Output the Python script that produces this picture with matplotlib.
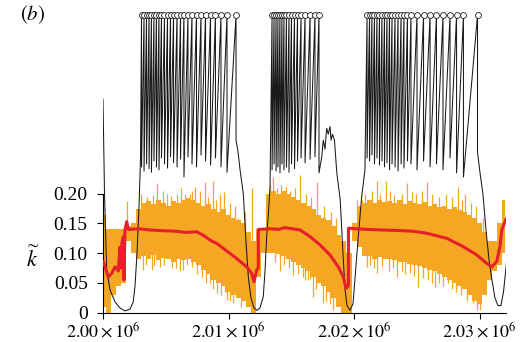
import numpy as np
import matplotlib
matplotlib.use("Agg")
import matplotlib.pyplot as plt
from matplotlib.ticker import FuncFormatter

plt.rcParams['font.family'] = 'serif'
plt.rcParams['font.serif'] = ['Liberation Serif', 'DejaVu Serif']
plt.rcParams['mathtext.fontset'] = 'stix'

# time axis in units of 10^3 steps

# --- black trace: troughs between bursts, and saw-tooth bursts (peak time, value after the drop)
peak_level = 0.5

trough0_x = [2000.00, 2000.12, 2000.29, 2000.56, 2000.96, 2001.35, 2001.75, 2002.15,
             2002.41, 2002.55, 2002.71, 2002.87, 2002.99]
trough0_y = [0.359, 0.20, 0.072, 0.038, 0.018, 0.008, 0.003, 0.006,
             0.018, 0.045, 0.10, 0.18, 0.26]

peaks1 = [2003.07, 2003.27, 2003.47, 2003.67, 2003.86, 2004.06, 2004.26, 2004.46, 2004.66,
          2004.90, 2005.14, 2005.38, 2005.62, 2005.90, 2006.18, 2006.45, 2006.77, 2007.09,
          2007.45, 2007.81, 2008.17, 2008.57, 2008.96, 2009.40, 2009.88, 2010.60]
lows1 = [0.245, 0.238, 0.25, 0.242, 0.236, 0.255, 0.245, 0.24, 0.26,
         0.25, 0.243, 0.262, 0.252, 0.245, 0.258, 0.228, 0.262, 0.25,
         0.245, 0.265, 0.255, 0.248, 0.26, 0.245, 0.236, 0.29]

trough1_x = [2010.76, 2010.92, 2011.18, 2011.39, 2011.58, 2011.79, 2012.03, 2012.27,
             2012.51, 2012.77, 2012.91, 2013.04, 2013.19, 2013.31]
trough1_y = [0.27, 0.24, 0.20, 0.12, 0.06, 0.025, 0.008, 0.004,
             0.008, 0.027, 0.07, 0.128, 0.17, 0.212]

peaks2 = [2013.47, 2013.63, 2013.79, 2013.94, 2014.10, 2014.26, 2014.42, 2014.62, 2014.82,
          2015.02, 2015.26, 2015.50, 2015.78, 2016.10, 2016.50, 2016.89, 2017.21]
lows2 = [0.24, 0.25, 0.238, 0.245, 0.235, 0.25, 0.24, 0.245, 0.236,
         0.25, 0.242, 0.255, 0.26, 0.252, 0.258, 0.262, 0.235]

trough2_x = [2017.43, 2017.55, 2017.69, 2017.82, 2017.95, 2018.09, 2018.17, 2018.28, 2018.44,
             2018.63, 2018.90, 2019.12, 2019.28, 2019.44, 2019.68, 2019.92, 2020.07,
             2020.34, 2020.61, 2020.87]
trough2_y = [0.262, 0.29, 0.275, 0.31, 0.30, 0.313, 0.29, 0.30, 0.29,
             0.235, 0.19, 0.10, 0.04, 0.012, 0.004, 0.015, 0.055,
             0.128, 0.195, 0.24]

peaks3 = [2021.04, 2021.24, 2021.43, 2021.63, 2021.83, 2022.03, 2022.23, 2022.43, 2022.63,
          2022.83, 2023.03, 2023.27, 2023.51, 2023.75, 2023.98, 2024.26, 2024.54, 2025.02,
          2025.54, 2026.06, 2026.57, 2027.09, 2027.65, 2028.17, 2028.72, 2029.84]
lows3 = [0.26, 0.255, 0.265, 0.25, 0.26, 0.248, 0.255, 0.245, 0.252,
         0.24, 0.25, 0.245, 0.238, 0.25, 0.243, 0.255, 0.25, 0.24,
         0.255, 0.245, 0.25, 0.24, 0.26, 0.235, 0.228, 0.27]

trough3_x = [2030.04, 2030.27, 2030.51, 2030.75, 2030.99, 2031.23, 2031.47, 2031.71,
             2031.91, 2032.11, 2032.27]
trough3_y = [0.235, 0.20, 0.14, 0.09, 0.055, 0.025, 0.012, 0.012,
             0.035, 0.075, 0.12]

# --- orange: instantaneous k, band limits and isolated excursions
orange_x = np.linspace(2000.0, 2032.0, 81)
orange_hi = [0.165, 0.14, 0.14, 0.14, 0.14, 0.145, 0.15, 0.175, 0.185, 0.188,
             0.183, 0.19, 0.185, 0.18, 0.188, 0.185, 0.19, 0.192, 0.19, 0.185,
             0.18, 0.183, 0.175, 0.17, 0.175, 0.165, 0.16, 0.155, 0.15, 0.135,
             0.12, 0.14, 0.14, 0.20, 0.205, 0.20, 0.205, 0.20, 0.195, 0.19,
             0.185, 0.18, 0.175, 0.165, 0.16, 0.155, 0.145, 0.13, 0.12, 0.10,
             0.15, 0.18, 0.185, 0.19, 0.185, 0.19, 0.186, 0.188, 0.185, 0.19,
             0.183, 0.187, 0.185, 0.182, 0.186, 0.18, 0.183, 0.178, 0.18, 0.175,
             0.178, 0.172, 0.17, 0.165, 0.16, 0.15, 0.135, 0.12, 0.12, 0.15, 0.19]
orange_lo = [0.01, 0.0, 0.03, 0.045, 0.05, 0.12, 0.10, 0.09, 0.095, 0.09,
             0.097, 0.088, 0.092, 0.09, 0.085, 0.09, 0.088, 0.09, 0.085, 0.08,
             0.072, 0.065, 0.055, 0.05, 0.045, 0.035, 0.03, 0.025, 0.02, 0.01,
             0.0, 0.06, 0.10, 0.10, 0.10, 0.098, 0.095, 0.09, 0.085, 0.08,
             0.075, 0.07, 0.06, 0.05, 0.045, 0.035, 0.025, 0.01, 0.0, 0.0,
             0.12, 0.11, 0.095, 0.095, 0.09, 0.093, 0.09, 0.09, 0.088, 0.085,
             0.085, 0.082, 0.08, 0.078, 0.075, 0.072, 0.07, 0.065, 0.06, 0.055,
             0.05, 0.045, 0.04, 0.03, 0.02, 0.015, 0.03, 0.055, 0.07, 0.08, 0.10]

up_x = [2001.91, 2004.30, 2005.10, 2006.53, 2007.33, 2007.73, 2008.13, 2008.76, 2009.64,
        2010.76, 2011.87, 2013.55, 2013.86, 2014.90, 2015.70, 2017.05, 2020.24, 2020.64,
        2021.83, 2022.55, 2024.22, 2024.62, 2025.82, 2028.29, 2028.84, 2031.87,
        2003.0, 2003.5, 2004.0, 2004.8, 2005.4, 2005.9, 2006.2, 2006.9, 2007.1, 2008.4,
        2009.0, 2009.3, 2010.1, 2010.5, 2011.3,
        2013.3, 2014.2, 2014.6, 2015.3, 2016.2, 2016.6, 2017.6, 2018.2, 2018.6,
        2020.9, 2021.4, 2022.1, 2022.9, 2023.2, 2023.8, 2024.9, 2025.4, 2026.2, 2026.8,
        2027.3, 2027.8, 2028.6, 2029.3, 2029.7, 2030.3]
up_top = [0.187, 0.218, 0.200, 0.199, 0.212, 0.205, 0.220, 0.221, 0.203,
          0.160, 0.210, 0.228, 0.210, 0.205, 0.232, 0.220, 0.190, 0.190,
          0.222, 0.222, 0.218, 0.203, 0.220, 0.212, 0.200, 0.190,
          0.20, 0.195, 0.198, 0.205, 0.196, 0.20, 0.21, 0.20, 0.205, 0.195,
          0.19, 0.20, 0.185, 0.18, 0.17,
          0.215, 0.215, 0.212, 0.21, 0.20, 0.195, 0.18, 0.17, 0.16,
          0.20, 0.205, 0.20, 0.205, 0.198, 0.20, 0.20, 0.205, 0.20, 0.195,
          0.20, 0.195, 0.19, 0.185, 0.18, 0.16]

down_x = [2003.19, 2003.90, 2004.54, 2005.50, 2006.37, 2007.09, 2008.53, 2009.08, 2009.88,
          2010.36, 2010.68, 2014.10, 2015.14, 2016.10, 2016.49, 2016.73, 2017.53, 2018.33,
          2021.04, 2021.83, 2023.43, 2024.46, 2025.10, 2026.45, 2027.49, 2029.48, 2030.04,
          2003.4, 2004.1, 2004.9, 2005.8, 2006.1, 2006.7, 2007.5, 2007.9, 2008.2, 2008.8,
          2009.4, 2009.7, 2010.1, 2011.0,
          2013.7, 2014.4, 2014.8, 2015.5, 2015.9, 2016.3, 2017.0, 2017.8, 2018.1,
          2021.3, 2021.6, 2022.2, 2022.8, 2023.1, 2023.8, 2024.1, 2024.8, 2025.5, 2025.9,
          2026.2, 2026.8, 2027.1, 2027.8, 2028.1, 2028.5, 2029.0, 2029.8]
down_bot = [0.072, 0.072, 0.077, 0.075, 0.072, 0.077, 0.050, 0.033, 0.021,
            0.016, 0.027, 0.070, 0.064, 0.055, 0.057, 0.027, 0.016, 0.005,
            0.077, 0.066, 0.060, 0.066, 0.044, 0.044, 0.050, 0.016, 0.005,
            0.08, 0.078, 0.08, 0.075, 0.07, 0.08, 0.065, 0.06, 0.05, 0.04,
            0.03, 0.035, 0.02, 0.01,
            0.085, 0.08, 0.075, 0.065, 0.06, 0.055, 0.04, 0.02, 0.015,
            0.08, 0.075, 0.078, 0.07, 0.075, 0.07, 0.065, 0.062, 0.058, 0.055,
            0.05, 0.05, 0.045, 0.04, 0.035, 0.03, 0.02, 0.005]

# --- red: running mean of k
mean_x = [2000.02, 2000.42, 2000.69, 2000.96, 2001.22, 2001.35, 2001.43, 2001.51, 2001.62,
          2001.67, 2001.75, 2001.89, 2002.02, 2002.9, 2003.75, 2004.6, 2005.74, 2006.6,
          2007.47, 2008.0, 2008.53, 2009.1, 2009.59, 2010.1, 2010.65, 2011.45, 2011.85,
          2012.03, 2012.25, 2012.37, 2012.38, 2013.31, 2014.0, 2014.50, 2015.1,
          2015.70, 2016.49, 2017.29, 2018.09, 2018.75, 2019.15, 2019.36, 2019.55, 2019.56,
          2021.01, 2022.3, 2023.67, 2024.7, 2025.79, 2027.39, 2028.71, 2029.78, 2030.57,
          2030.97, 2031.37, 2031.63, 2031.77, 2032.11]
mean_y = [0.086, 0.060, 0.066, 0.077, 0.070, 0.110, 0.075, 0.118, 0.128,
          0.055, 0.139, 0.153, 0.140, 0.141, 0.139, 0.138, 0.137, 0.135,
          0.136, 0.130, 0.122, 0.116, 0.108, 0.100, 0.091, 0.077, 0.066,
          0.052, 0.072, 0.075, 0.140, 0.141, 0.140, 0.143, 0.141,
          0.139, 0.128, 0.114, 0.097, 0.077, 0.060, 0.041, 0.045, 0.142,
          0.140, 0.139, 0.138, 0.137, 0.1335, 0.125, 0.111, 0.097, 0.083,
          0.077, 0.086, 0.111, 0.139, 0.157]

xticks = [2000, 2010, 2020, 2030]
xtick_labels = [r'$2.00\times10^{6}$', r'$2.01\times10^{6}$',
                r'$2.02\times10^{6}$', r'$2.03\times10^{6}$']
yticks = [0, 0.05, 0.10, 0.15, 0.20]


def burst(peaks, lows):
    xs, ys = [], []
    for p, lo in zip(peaks, lows):
        xs += [p, p]
        ys += [peak_level, lo]
    return xs, ys


bx, by = list(trough0_x), list(trough0_y)
for pk, lw_, tx, ty in [(peaks1, lows1, trough1_x, trough1_y),
                        (peaks2, lows2, trough2_x, trough2_y),
                        (peaks3, lows3, trough3_x, trough3_y)]:
    sx, sy = burst(pk, lw_)
    bx += sx + tx
    by += sy + ty
all_peaks = peaks1 + peaks2 + peaks3

fig = plt.figure(figsize=(5.22, 3.42), dpi=100)
ax = fig.add_axes([103 / 522, (342 - 312.7) / 342, (506 - 103) / 522, 309.4 / 342])

orange = '#f5a623'
ax.fill_between(orange_x, orange_lo, orange_hi, step='mid', color=orange, lw=0, zorder=1)
ax.vlines(up_x, np.interp(up_x, orange_x, orange_hi) - 0.01, up_top, color=orange, lw=0.9, zorder=1)
ax.vlines(down_x, down_bot, np.interp(down_x, orange_x, orange_lo) + 0.01, color=orange, lw=0.9, zorder=1)

ax.plot(bx, by, color='#1a1a1a', lw=0.75, zorder=2)
ax.plot(mean_x, mean_y, color='#e5202b', lw=2.2, zorder=3, solid_joinstyle='round')
ax.plot(all_peaks, [peak_level] * len(all_peaks), 'o', ms=4.2, mfc='white', mec='#1a1a1a',
        mew=0.6, zorder=4, clip_on=False)

ax.set_xlim(2000, 2032.11)
ax.set_ylim(0, 0.52)

for s in ['top', 'right']:
    ax.spines[s].set_visible(False)
ax.spines['left'].set_bounds(0, 0.20)
ax.spines['left'].set_linewidth(0.8)
ax.spines['bottom'].set_linewidth(0.8)

ax.set_xticks(xticks)
ax.set_xticklabels(xtick_labels)
ax.set_yticks(yticks)
ax.yaxis.set_major_formatter(FuncFormatter(lambda v, _: '0' if v == 0 else f'{v:.2f}'))
ax.tick_params(axis='both', direction='out', length=4, width=0.8, labelsize=14)
ax.tick_params(axis='x', pad=2.5, labelsize=13)
ax.tick_params(axis='y', pad=7)

fig.text(33 / 522, 1 - 259 / 342, r'$\widetilde{k}$', fontsize=16, ha='center', va='center')
fig.text(20 / 522, 1 - 15 / 342, r'$(b)$', fontsize=15, ha='left', va='center')

fig.savefig('out.png', dpi=100)
